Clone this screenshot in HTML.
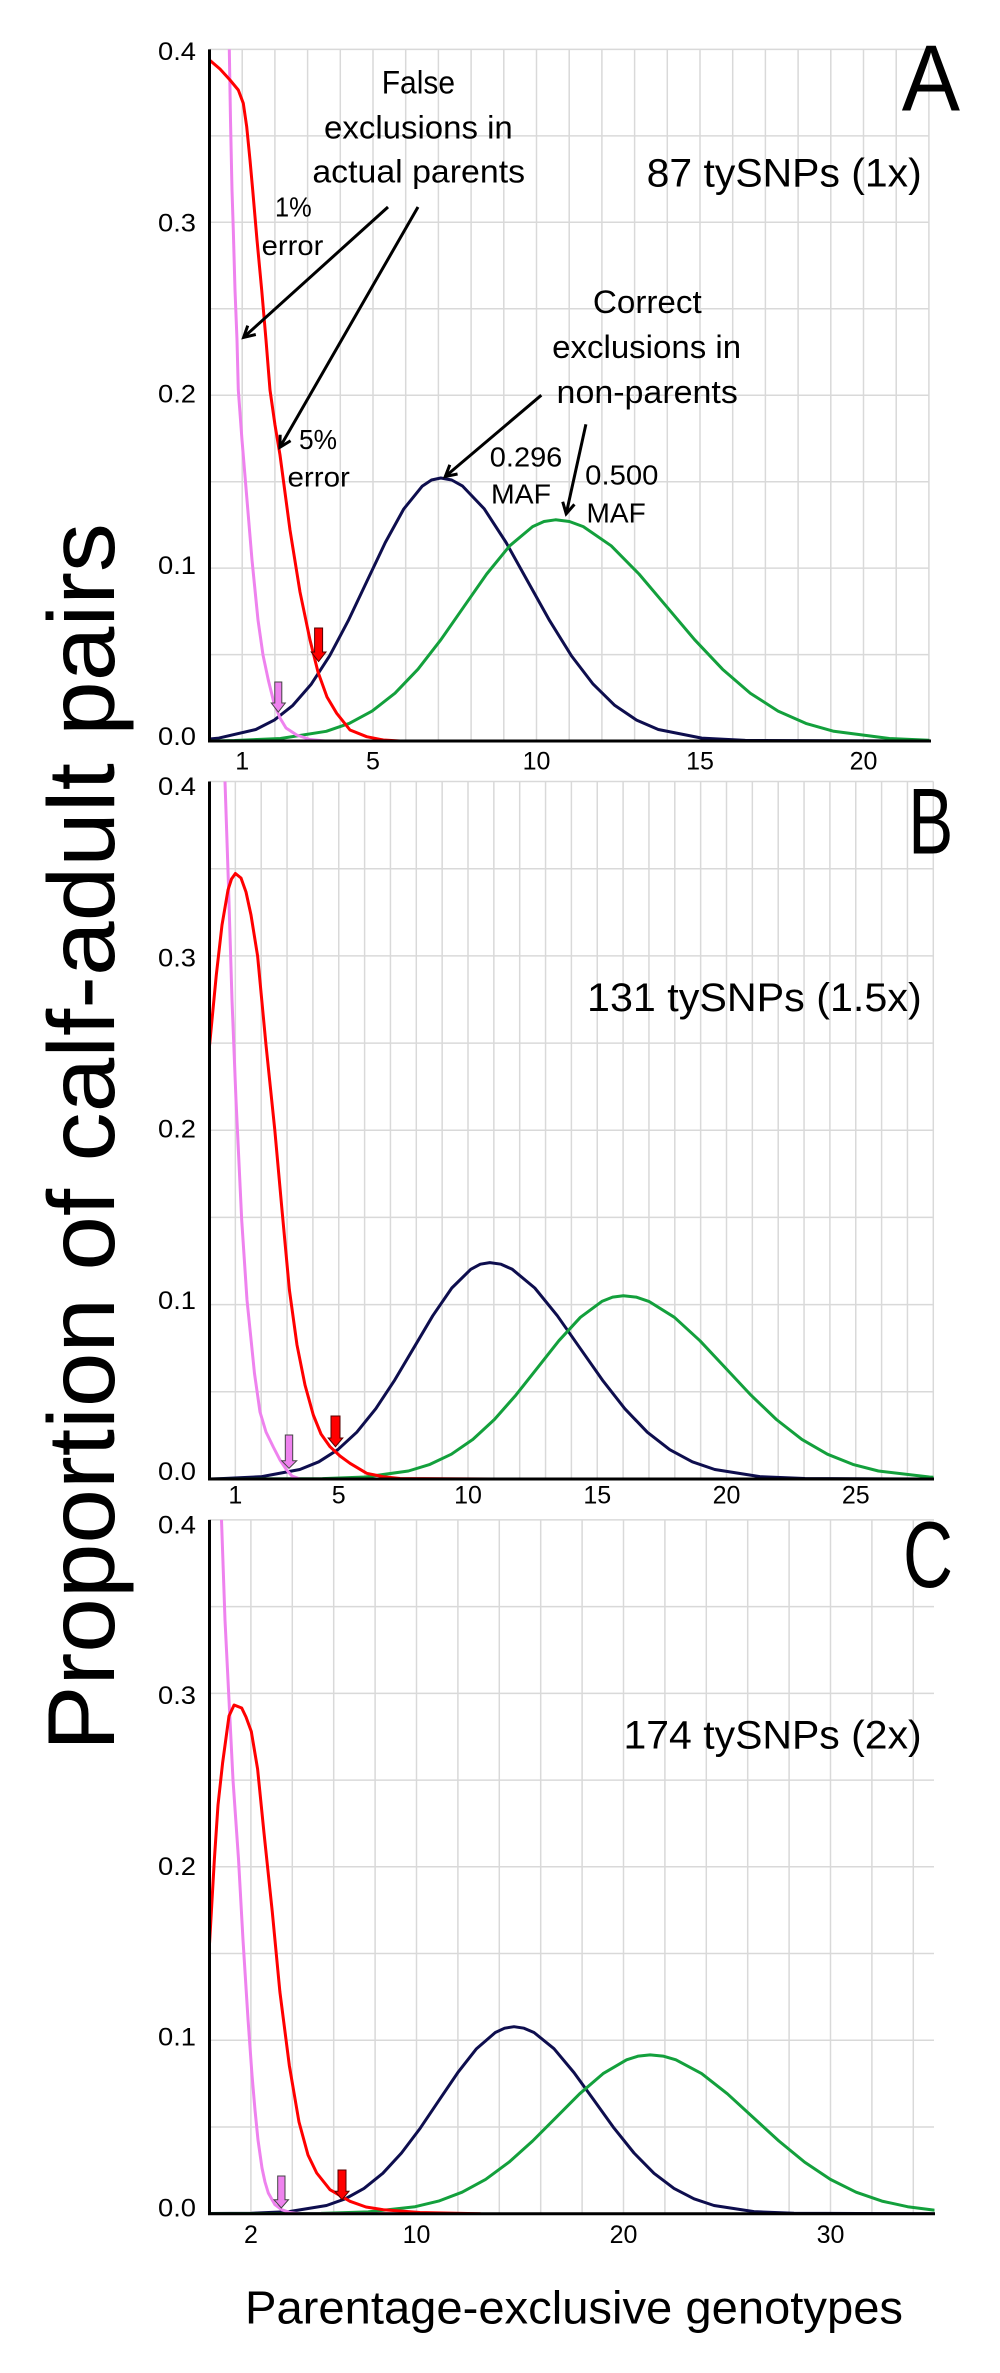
<!DOCTYPE html>
<html><head><meta charset="utf-8"><style>
html,body{margin:0;padding:0;background:#fff;}
svg{display:block;}
text{font-family:"Liberation Sans",Arial,sans-serif;fill:#000;}
</style></head><body>
<svg width="1000" height="2373" viewBox="0 0 1000 2373" xmlns="http://www.w3.org/2000/svg">
<defs>
<marker id="ah" markerWidth="16" markerHeight="16" refX="13" refY="8" orient="auto" markerUnits="userSpaceOnUse">
<path d="M2,2 L13,8 L2,14" fill="none" stroke="#000" stroke-width="3" stroke-linejoin="miter"/>
</marker>
<clipPath id="cA"><rect x="209.5" y="49.4" width="720" height="693"/></clipPath>
<clipPath id="cB"><rect x="209.5" y="781.5" width="724" height="699"/></clipPath>
<clipPath id="cC"><rect x="209.5" y="1519.9" width="725" height="695"/></clipPath>
</defs>
<rect width="1000" height="2373" fill="#fff"/>

<!-- ========== PANEL A ========== -->
<g stroke="#d9d9d9" stroke-width="1.5" fill="none">
<path d="M242.2,49.4V741M274.9,49.4V741M307.6,49.4V741M340.3,49.4V741M373,49.4V741M405.7,49.4V741M438.4,49.4V741M471.1,49.4V741M503.8,49.4V741M536.5,49.4V741M569.2,49.4V741M601.9,49.4V741M634.6,49.4V741M667.3,49.4V741M700,49.4V741M732.7,49.4V741M765.4,49.4V741M798.1,49.4V741M830.8,49.4V741M863.5,49.4V741M896.2,49.4V741M928.9,49.4V741"/>
<path d="M209.5,654.6H928.9M209.5,568.1H928.9M209.5,481.7H928.9M209.5,395.2H928.9M209.5,308.8H928.9M209.5,222.3H928.9M209.5,135.9H928.9M209.5,49.4H928.9"/>
</g>
<g clip-path="url(#cA)" fill="none" stroke-width="3" stroke-linejoin="round" stroke-linecap="round">
<polyline stroke="#0e0e4e" points="209.5,739 218.8,738.1 255.8,729.5 274.3,720.1 292.8,705.4 311.3,684.1 329.8,655.6 348.3,620.6 366.8,581.5 385.3,542.5 403.8,508.9 422.3,486.1 431.5,480 440.8,478 451.7,480 462.6,486.1 484.3,508.9 506.1,542.5 527.8,581.5 549.6,620.6 571.3,655.6 593.1,684.1 614.8,705.4 636.6,720.1 658.3,729.5 701.8,738.1 745.3,740.4 929,741"/>
<polyline stroke="#13a03c" points="209.5,741 234.5,740.5 280.4,738.5 326.3,731.3 349.2,723.4 372.1,711.1 395,693.2 418,669.2 440.9,639.7 463.8,606.8 486.7,574 509.7,545.8 532.6,526.6 544,521.5 555.5,519.8 569.4,521.5 583.3,526.6 611.2,545.8 639,574 666.8,606.8 694.6,639.7 722.5,669.2 750.3,693.2 778.1,711.1 805.9,723.4 833.8,731.3 889.4,738.5 929,740.3"/>
<polyline stroke="#ee82ee" points="229.3,40 229.3,49.4 230.5,120 232,190 233.3,230 235,290 237,340 238.3,390 242,440 247,500 252,560 258,620 263,655 268.3,680 274,703 280,718 286,728 296.7,735 310,739.5 325,741 420,741"/>
<polyline stroke="#ff0000" points="209.5,60 220,69 230,80 238.3,90 243.3,103.3 246.7,126.7 250,160 252.7,190 257,240 261.7,290 266,340 270,390 275,425 280,455 290,530 300,592 310,640 318,672 327,697 336.7,713.3 350,730 366.7,736.7 383.3,740 400,741 538,741"/>
</g>
<path d="M209.5,49.4V741H931" fill="none" stroke="#000" stroke-width="3"/>
<path d="M274.8,682H281.8V703H285.3L278.3,712L271.3,703H274.8Z" fill="#ee82ee" stroke="#444" stroke-width="1"/>
<path d="M314.6,628H322.6V652H326L318.6,661.5L311.2,652H314.6Z" fill="#ff0000" stroke="#500" stroke-width="1"/>
<g font-size="25">
<text x="196" y="60" text-anchor="end" textLength="38" lengthAdjust="spacingAndGlyphs">0.4</text>
<text x="196" y="231.3" text-anchor="end" textLength="38" lengthAdjust="spacingAndGlyphs">0.3</text>
<text x="196" y="402.5" text-anchor="end" textLength="38" lengthAdjust="spacingAndGlyphs">0.2</text>
<text x="196" y="573.8" text-anchor="end" textLength="38" lengthAdjust="spacingAndGlyphs">0.1</text>
<text x="196" y="745" text-anchor="end" textLength="38" lengthAdjust="spacingAndGlyphs">0.0</text>
<text x="242.2" y="769.3" text-anchor="middle">1</text>
<text x="373" y="769.3" text-anchor="middle">5</text>
<text x="536.5" y="769.3" text-anchor="middle">10</text>
<text x="700" y="769.3" text-anchor="middle">15</text>
<text x="863.5" y="769.3" text-anchor="middle">20</text>
</g>
<text x="901.7" y="110.7" font-size="94" textLength="58.3" lengthAdjust="spacingAndGlyphs">A</text>
<text x="646.7" y="186.7" font-size="40" textLength="275" lengthAdjust="spacingAndGlyphs">87 tySNPs (1x)</text>
<g font-size="32" text-anchor="middle">
<text x="418.4" y="93.3" textLength="73.3" lengthAdjust="spacingAndGlyphs">False</text>
<text x="418.4" y="138.3" textLength="188.7" lengthAdjust="spacingAndGlyphs">exclusions in</text>
<text x="418.7" y="182.3" textLength="212.7" lengthAdjust="spacingAndGlyphs">actual parents</text>
<text x="647.3" y="312.9" textLength="108.8" lengthAdjust="spacingAndGlyphs">Correct</text>
<text x="646.6" y="357.9" textLength="188.9" lengthAdjust="spacingAndGlyphs">exclusions in</text>
<text x="647.2" y="403" textLength="181.3" lengthAdjust="spacingAndGlyphs">non-parents</text>
</g>
<g font-size="28">
<text x="275" y="216.7" textLength="36.7" lengthAdjust="spacingAndGlyphs">1%</text>
<text x="261.7" y="255" textLength="61.6" lengthAdjust="spacingAndGlyphs">error</text>
<text x="299" y="448.9" textLength="38" lengthAdjust="spacingAndGlyphs">5%</text>
<text x="287.5" y="486.7" textLength="62.4" lengthAdjust="spacingAndGlyphs">error</text>
<text x="489.8" y="466.3" textLength="72.5" lengthAdjust="spacingAndGlyphs">0.296</text>
<text x="491" y="503.6" textLength="60" lengthAdjust="spacingAndGlyphs">MAF</text>
<text x="585.2" y="484.7" textLength="73.2" lengthAdjust="spacingAndGlyphs">0.500</text>
<text x="586.5" y="522.5" textLength="59.2" lengthAdjust="spacingAndGlyphs">MAF</text>
</g>
<g stroke="#000" stroke-width="3" fill="none" marker-end="url(#ah)">
<line x1="388" y1="207" x2="243.6" y2="337.4"/>
<line x1="418" y1="207" x2="279.9" y2="447.3"/>
<line x1="541.3" y1="395.2" x2="445.3" y2="476.5"/>
<line x1="585.9" y1="424.3" x2="566.2" y2="513.8"/>
</g>

<!-- ========== PANEL B ========== -->
<g stroke="#d9d9d9" stroke-width="1.5" fill="none">
<path d="M235.35,781.5V1479M261.2,781.5V1479M287.05,781.5V1479M312.9,781.5V1479M338.75,781.5V1479M364.6,781.5V1479M390.45,781.5V1479M416.3,781.5V1479M442.15,781.5V1479M468,781.5V1479M493.85,781.5V1479M519.7,781.5V1479M545.55,781.5V1479M571.4,781.5V1479M597.25,781.5V1479M623.1,781.5V1479M648.95,781.5V1479M674.8,781.5V1479M700.65,781.5V1479M726.5,781.5V1479M752.35,781.5V1479M778.2,781.5V1479M804.05,781.5V1479M829.9,781.5V1479M855.75,781.5V1479M881.6,781.5V1479M907.45,781.5V1479M933.3,781.5V1479"/>
<path d="M209.5,1391.8H933.3M209.5,1304.6H933.3M209.5,1217.4H933.3M209.5,1130.3H933.3M209.5,1043.1H933.3M209.5,955.9H933.3M209.5,868.7H933.3M209.5,781.5H933.3"/>
</g>
<g clip-path="url(#cB)" fill="none" stroke-width="3" stroke-linejoin="round" stroke-linecap="round">
<polyline stroke="#0e0e4e" points="209.5,1479 223.8,1478.5 261.8,1476.6 299.8,1469.5 318.8,1461.8 337.8,1449.7 356.8,1432.2 375.8,1408.7 394.8,1379.9 413.8,1347.8 432.8,1315.7 451.8,1288 470.8,1269.3 480.3,1264.2 489.8,1262.6 501,1264.2 512.3,1269.3 534.8,1288 557.3,1315.7 579.8,1347.8 602.3,1379.9 624.8,1408.7 647.3,1432.2 669.8,1449.7 692.3,1461.8 714.8,1469.5 759.8,1476.6 804.8,1478.5 933.3,1479"/>
<polyline stroke="#13a03c" points="209.5,1479 322.4,1478.6 365.4,1477 408.4,1471 429.9,1464.4 451.4,1454.2 472.9,1439.4 494.4,1419.5 515.9,1395.1 537.4,1367.9 558.9,1340.7 580.4,1317.3 601.9,1301.4 612.6,1297.1 623.4,1295.8 636.1,1297.1 648.9,1301.4 674.4,1317.3 699.9,1340.7 725.4,1367.9 750.9,1395.1 776.4,1419.5 801.9,1439.4 827.4,1454.2 852.9,1464.4 878.4,1471 929.4,1477 933.3,1477.3"/>
<polyline stroke="#ee82ee" points="224.7,770 225,781.5 228.3,880 232,1000 236,1100 241.7,1220 247,1300 254.5,1373.5 260,1412 266,1432 273.3,1447 280,1460 286.7,1470 292,1476 300,1479 420,1479"/>
<polyline stroke="#ff0000" points="209.5,1046 216.3,975 222,925 228,890 231.5,879 235.4,873.5 241,878 246,892 251,915 257.6,956 266,1045 274.8,1130 282,1210 289.4,1290 297,1345 305,1385 313.3,1415 321,1434 330,1446.7 340,1456 350,1463.3 366.7,1473.3 383.3,1476.7 400,1478.5 493,1479"/>
</g>
<path d="M209.5,781.5V1479H934" fill="none" stroke="#000" stroke-width="3"/>
<path d="M285.3,1435H292.7V1460.7H296.7L289,1468.3L281.7,1460.7H285.3Z" fill="#ee82ee" stroke="#444" stroke-width="1"/>
<path d="M331,1416H340V1438H342.8L335.5,1446.7L328.2,1438H331Z" fill="#ff0000" stroke="#500" stroke-width="1"/>
<g font-size="25">
<text x="196" y="795" text-anchor="end" textLength="38" lengthAdjust="spacingAndGlyphs">0.4</text>
<text x="196" y="966.3" text-anchor="end" textLength="38" lengthAdjust="spacingAndGlyphs">0.3</text>
<text x="196" y="1137.5" text-anchor="end" textLength="38" lengthAdjust="spacingAndGlyphs">0.2</text>
<text x="196" y="1308.8" text-anchor="end" textLength="38" lengthAdjust="spacingAndGlyphs">0.1</text>
<text x="196" y="1480" text-anchor="end" textLength="38" lengthAdjust="spacingAndGlyphs">0.0</text>
<text x="235.35" y="1503.3" text-anchor="middle">1</text>
<text x="338.75" y="1503.3" text-anchor="middle">5</text>
<text x="468" y="1503.3" text-anchor="middle">10</text>
<text x="597.25" y="1503.3" text-anchor="middle">15</text>
<text x="726.5" y="1503.3" text-anchor="middle">20</text>
<text x="855.75" y="1503.3" text-anchor="middle">25</text>
</g>
<text x="908.3" y="853.3" font-size="94" textLength="45" lengthAdjust="spacingAndGlyphs">B</text>
<text x="587" y="1011" font-size="40" textLength="334.7" lengthAdjust="spacingAndGlyphs">131 tySNPs (1.5x)</text>

<!-- ========== PANEL C ========== -->
<g stroke="#d9d9d9" stroke-width="1.5" fill="none">
<path d="M250.9,1519.9V2213.7M292.3,1519.9V2213.7M333.7,1519.9V2213.7M375.1,1519.9V2213.7M416.5,1519.9V2213.7M457.9,1519.9V2213.7M499.3,1519.9V2213.7M540.7,1519.9V2213.7M582.1,1519.9V2213.7M623.5,1519.9V2213.7M664.9,1519.9V2213.7M706.3,1519.9V2213.7M747.7,1519.9V2213.7M789.1,1519.9V2213.7M830.5,1519.9V2213.7M871.9,1519.9V2213.7M913.3,1519.9V2213.7"/>
<path d="M209.5,2127H934M209.5,2040.3H934M209.5,1953.5H934M209.5,1866.8H934M209.5,1780.1H934M209.5,1693.4H934M209.5,1606.6H934M209.5,1519.9H934"/>
</g>
<g clip-path="url(#cC)" fill="none" stroke-width="3" stroke-linejoin="round" stroke-linecap="round">
<polyline stroke="#0e0e4e" points="209.5,2213.5 251.5,2213.3 289,2211.6 326.5,2205.5 345.3,2198.8 364,2188.4 382.8,2173.3 401.5,2153 420.3,2128.1 439,2100.3 457.8,2072.6 476.5,2048.7 495.3,2032.5 504.6,2028.2 514,2026.7 524,2028.2 534,2032.5 554,2048.7 574,2072.6 594,2100.3 614,2128.1 634,2153 654,2173.3 674,2188.4 694,2198.8 714,2205.5 754,2211.6 794,2213.3 934,2213.7"/>
<polyline stroke="#13a03c" points="209.5,2213.7 321.1,2213.4 368.1,2211.9 415.1,2206.7 438.6,2201.1 462.1,2192.2 485.6,2179.4 509.1,2162.1 532.6,2141 556.1,2117.4 579.6,2093.8 603.1,2073.6 626.6,2059.8 638.3,2056.1 650.1,2054.9 663,2056.1 675.9,2059.8 701.6,2073.6 727.4,2093.8 753.1,2117.4 778.9,2141 804.6,2162.1 830.4,2179.4 856.1,2192.2 881.9,2201.1 907.6,2206.7 934,2210.1"/>
<polyline stroke="#ee82ee" points="221.2,1508 221.5,1519.9 225,1620 229,1700 233,1780 238.5,1859 243,1940 248,2019 252,2075 255,2110 258,2140 262,2168 265,2182 268.3,2193 275,2204.7 281.7,2209.7 290,2212.5 300,2213.7 420,2213.7"/>
<polyline stroke="#ff0000" points="209.5,1944 214.4,1859 218,1805 222.6,1763 229,1716 234.1,1705 241.7,1708 246,1717 251.3,1731.5 257.6,1769 264,1833 272.3,1912 279.9,1992 289.4,2066 299,2122 308,2155 316.7,2173 330,2189.7 350,2201.3 366,2207 383.3,2209.7 420,2212.5 480,2213.7"/>
</g>
<path d="M209.5,1519.9V2213.7H935" fill="none" stroke="#000" stroke-width="3"/>
<path d="M277.7,2176H285V2199.7H288.5L281.3,2208L274,2199.7H277.7Z" fill="#ee82ee" stroke="#444" stroke-width="1"/>
<path d="M338,2170H346V2191.3H349L342,2199.7L335,2191.3H338Z" fill="#ff0000" stroke="#500" stroke-width="1"/>
<g font-size="25">
<text x="196" y="1533.3" text-anchor="end" textLength="38" lengthAdjust="spacingAndGlyphs">0.4</text>
<text x="196" y="1704" text-anchor="end" textLength="38" lengthAdjust="spacingAndGlyphs">0.3</text>
<text x="196" y="1874.8" text-anchor="end" textLength="38" lengthAdjust="spacingAndGlyphs">0.2</text>
<text x="196" y="2045.5" text-anchor="end" textLength="38" lengthAdjust="spacingAndGlyphs">0.1</text>
<text x="196" y="2216.3" text-anchor="end" textLength="38" lengthAdjust="spacingAndGlyphs">0.0</text>
<text x="250.9" y="2243" text-anchor="middle">2</text>
<text x="416.5" y="2243" text-anchor="middle">10</text>
<text x="623.5" y="2243" text-anchor="middle">20</text>
<text x="830.5" y="2243" text-anchor="middle">30</text>
</g>
<text x="903" y="1587" font-size="94" textLength="50" lengthAdjust="spacingAndGlyphs">C</text>
<text x="623.5" y="1748.3" font-size="40" textLength="298.2" lengthAdjust="spacingAndGlyphs">174 tySNPs (2x)</text>

<!-- Axis titles -->
<text transform="translate(114,1137) rotate(-90)" text-anchor="middle" font-size="95" textLength="1228" lengthAdjust="spacingAndGlyphs">Proportion of calf-adult pairs</text>
<text x="245" y="2323.7" font-size="46" textLength="658" lengthAdjust="spacingAndGlyphs">Parentage-exclusive genotypes</text>
</svg>
</body></html>
